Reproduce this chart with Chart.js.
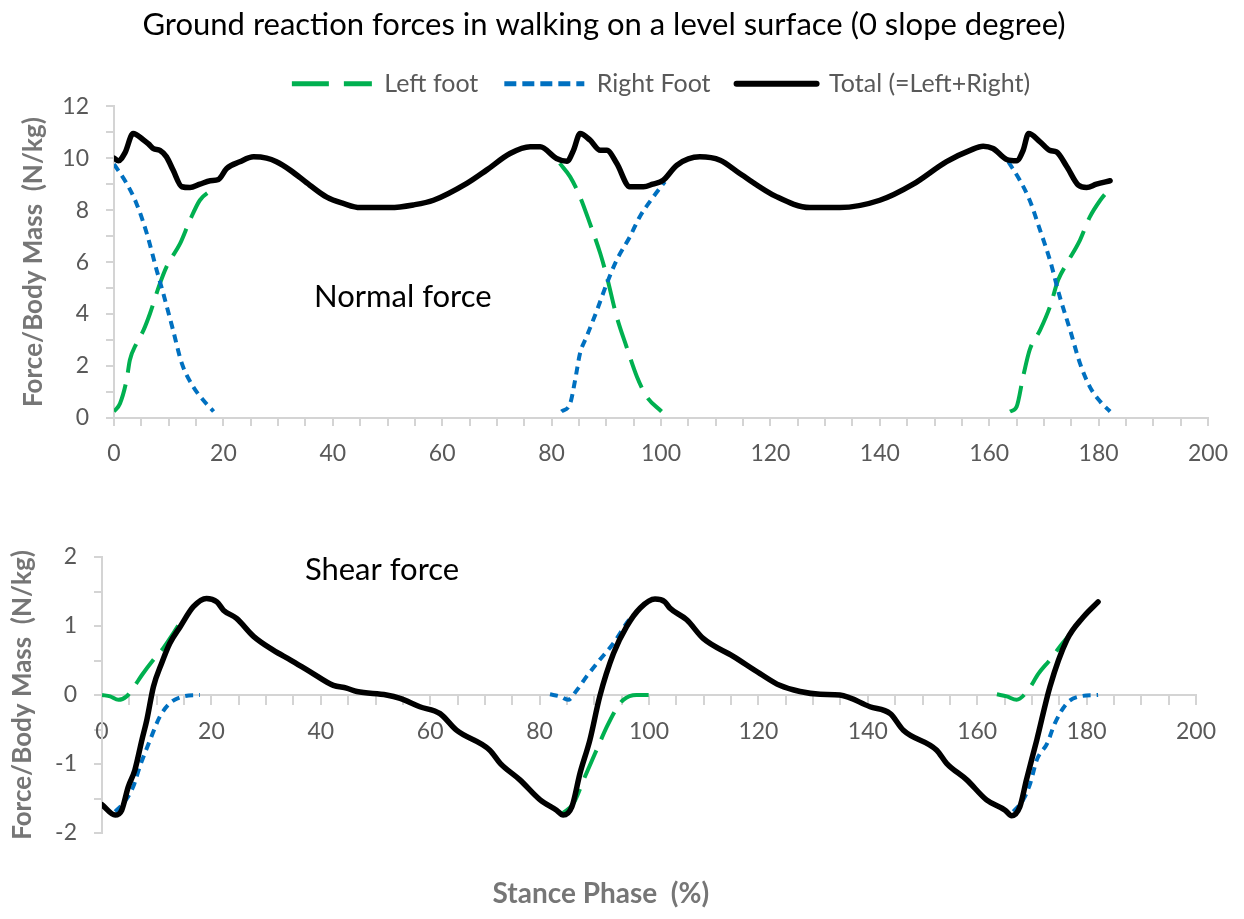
<!DOCTYPE html>
<html>
<head>
<meta charset="utf-8">
<title>Ground reaction forces</title>
<script src="https://cdn.jsdelivr.net/npm/chart.js@4/dist/chart.umd.min.js"></script>
<style>
  html, body { margin: 0; padding: 0; background: #fff; }
  .box { position: absolute; left: 0; width: 1244px; }
  #topBox { top: 0; height: 480px; }
  #bottomBox { top: 480px; height: 439px; }
</style>
</head>
<body>
<div class="box" id="topBox"><canvas id="normalChart"></canvas></div>
<div class="box" id="bottomBox"><canvas id="shearChart"></canvas></div>
<script>
// --- data: [stance phase %, force / body mass N/kg] ---
const seriesNames = ['Left foot', 'Right Foot', 'Total (=Left+Right)'];
const xTicks = [0, 20, 40, 60, 80, 100, 120, 140, 160, 180, 200];
const normalTicks = [0, 2, 4, 6, 8, 10, 12];
const shearTicks = [-2, -1, 0, 1, 2];

const normalTotal = [
  [0, 10.0], [0.8, 9.9], [2.0, 10.2], [3.5, 10.95], [5.4, 10.7], [6.3, 10.55], [7.2, 10.37],
  [8.4, 10.3], [9.6, 10.05], [10.8, 9.54], [12.4, 8.9], [13.9, 8.87], [15.7, 9.0], [17.6, 9.13],
  [19.1, 9.18], [20.6, 9.6], [23.0, 9.86], [25.5, 10.05], [27.9, 10.0], [29.7, 9.86], [32.2, 9.54],
  [35.8, 8.96], [38.9, 8.5], [41.9, 8.26], [45.0, 8.1], [50.5, 8.1], [54.7, 8.2], [58.4, 8.38],
  [64.5, 9.03], [68.1, 9.54], [72.4, 10.18], [76.1, 10.44], [77.9, 10.44], [80.9, 9.99],
  [82.8, 9.88], [84.0, 10.3], [85.2, 10.95], [87.0, 10.7], [88.9, 10.3], [90.1, 10.3], [91.9, 9.8],
  [94.3, 8.9], [96.8, 8.9], [98.5, 9.0], [100.4, 9.15], [102.9, 9.73], [107.1, 10.05], [110.8, 9.92],
  [114.4, 9.41], [121.1, 8.52], [127.2, 8.1], [132.7, 8.1], [140.0, 8.38], [146.1, 9.0],
  [152.2, 9.87], [156.5, 10.3], [158.9, 10.46], [160.7, 10.37], [163.2, 9.95], [165.0, 9.9],
  [166.2, 10.3], [167.2, 10.95], [169.3, 10.63], [171.1, 10.3], [172.3, 10.24], [174.2, 9.67],
  [176.3, 8.96], [177.8, 8.87], [179.6, 9.0], [182.1, 9.13]
];
const normalLeft = [
  [[0, 0.25], [1.1, 0.56], [2.3, 1.46], [2.9, 2.23], [4.1, 2.87], [5.4, 3.38], [6.6, 4.03],
   [8.4, 5.18], [9.6, 5.82], [12.1, 6.72], [13.9, 7.62], [15.7, 8.38], [17.8, 8.77]],
  [[81.5, 9.8], [83.4, 9.28], [85.2, 8.51], [87.0, 7.49], [88.9, 6.33], [90.1, 5.44], [91.9, 3.9],
   [93.7, 2.74], [95.6, 1.59], [97.4, 0.82], [100.1, 0.25]],
  [[163.8, 0.25], [165.0, 0.43], [166.2, 1.59], [167.4, 2.62], [169.3, 3.38], [171.1, 4.28],
   [172.6, 5.31], [174.2, 5.95], [176.6, 6.85], [178.4, 7.74], [180.3, 8.38], [181.8, 8.77]]
];
const normalRight = [
  [[0, 9.77], [2.3, 9.03], [4.1, 8.26], [6.0, 7.1], [7.8, 5.69], [9.0, 4.8], [10.8, 3.38],
   [12.4, 2.1], [14.5, 1.2], [16.3, 0.69], [18.2, 0.25]],
  [[81.8, 0.25], [83.4, 0.56], [84.3, 1.46], [85.2, 2.49], [86.4, 3.13], [88.3, 4.15], [90.1, 5.18],
   [91.9, 6.08], [94.3, 6.97], [96.1, 7.74], [98.6, 8.51], [100.7, 9.09]],
  [[163.5, 9.86], [165.6, 9.15], [167.4, 8.38], [169.3, 7.23], [171.1, 6.08], [172.9, 4.67],
   [174.8, 3.38], [176.6, 2.1], [178.4, 1.2], [180.3, 0.63], [182.1, 0.25]]
];

const shearTotal = [
  [0, -1.59], [2.4, -1.74], [3.6, -1.67], [4.8, -1.33], [6.0, -1.09], [7.3, -0.65], [8.2, -0.36],
  [9.4, 0.12], [10.9, 0.46], [12.4, 0.75], [14.3, 0.99], [16.7, 1.28], [19.1, 1.40], [21.0, 1.35],
  [22.2, 1.23], [24.6, 1.11], [27.7, 0.85], [31.3, 0.65], [34.4, 0.51], [38.0, 0.34], [42.3, 0.14],
  [44.7, 0.10], [46.6, 0.05], [52.0, 0.0], [54.5, -0.05], [58.1, -0.17], [61.8, -0.27], [64.8, -0.51],
  [70.9, -0.80], [72.8, -0.99], [76.4, -1.23], [80.1, -1.52], [83.1, -1.67], [84.3, -1.74],
  [85.9, -1.62], [87.4, -1.13], [89.2, -0.65], [91.0, -0.02], [93.5, 0.60], [95.9, 0.99],
  [98.4, 1.26], [101.1, 1.39], [102.9, 1.35], [103.8, 1.26], [106.9, 1.09], [109.9, 0.82],
  [115.4, 0.56], [120.3, 0.31], [123.9, 0.14], [127.6, 0.05], [131.3, 0.01], [134.9, 0.0],
  [140.4, -0.17], [144.1, -0.27], [146.5, -0.51], [152.6, -0.80], [154.4, -0.99], [158.1, -1.23],
  [161.7, -1.52], [165.1, -1.67], [166.3, -1.75], [167.8, -1.62], [169.0, -1.23], [170.9, -0.65],
  [173.3, 0.12], [176.4, 0.80], [179.4, 1.13], [182.1, 1.35]
];
const shearLeft = [
  [[0, 0], [1.5, -0.02], [3.0, -0.07], [4.5, -0.02], [5.7, 0.10], [7.3, 0.29], [9.4, 0.51],
   [11.2, 0.68], [13.0, 0.89], [14.6, 1.09]],
  [[84.3, -1.71], [86.2, -1.57], [88.3, -1.18], [90.4, -0.80], [92.3, -0.46], [94.1, -0.19],
   [95.3, -0.07], [97.7, 0], [100.2, 0]],
  [[163.6, 0.01], [165.4, -0.02], [167.2, -0.07], [169.3, 0.07], [171.2, 0.31], [173.3, 0.51],
   [175.1, 0.70], [177.0, 0.89], [178.8, 1.11]]
];
const shearRight = [
  [[2.4, -1.69], [3.9, -1.57], [5.7, -1.33], [6.9, -1.04], [8.8, -0.65], [10.6, -0.31],
   [12.4, -0.12], [14.9, -0.02], [17.9, 0]],
  [[81.9, 0.01], [83.7, -0.02], [85.2, -0.07], [86.8, 0.07], [88.6, 0.27], [91.0, 0.51],
   [93.5, 0.75], [95.9, 1.04], [97.1, 1.16]],
  [[166.6, -1.69], [168.4, -1.52], [169.7, -1.28], [170.9, -0.94], [172.8, -0.70], [174.2, -0.41],
   [176.4, -0.12], [178.8, -0.02], [182.1, 0]]
];

const chartTitle = 'Ground reaction forces in walking on a level surface (0 slope degree)';
const yTitle = 'Force/Body Mass  (N/kg)';
const xTitle = 'Stance Phase  (%)';

// --- styling ---
const FONT = 'Lato, "Open Sans", sans-serif';
const tickColor = '#595959';
const axisTitleColor = '#767676';
const axisColor = '#d4d4d4';
const green = '#00b050';
const blue = '#0070c0';

function line(points) {
  return points.map(p => ({ x: p[0], y: p[1] }));
}
function segments(parts) {
  const out = [];
  parts.forEach((seg, i) => {
    if (i > 0) out.push({ x: seg[0][0], y: null });
    seg.forEach(p => out.push({ x: p[0], y: p[1] }));
  });
  return out;
}

function datasets(left, right, total) {
  return [
    { label: seriesNames[0], data: segments(left), borderColor: green, borderWidth: 4,
      borderDash: [30, 12], order: 2 },
    { label: seriesNames[1], data: segments(right), borderColor: blue, borderWidth: 4,
      borderDash: [8, 6], order: 1 },
    { label: seriesNames[2], data: line(total), borderColor: '#000', borderWidth: 5.5,
      borderCapStyle: 'round', order: 0 }
  ];
}

const legendDash = [[37, 15], [12, 6], []];
const legendWidth = [5, 5, 6];

// plain text notes placed in data coordinates
const notesPlugin = {
  id: 'notes',
  afterDatasetsDraw(chart, args, opts) {
    const { ctx, scales } = chart;
    (opts.items || []).forEach(n => {
      ctx.save();
      ctx.font = n.font;
      ctx.fillStyle = n.color;
      ctx.textAlign = 'center';
      ctx.textBaseline = 'middle';
      ctx.fillText(n.text, scales.x.getPixelForValue(n.x), scales.y.getPixelForValue(n.y));
      ctx.restore();
    });
  }
};

function xScale(position, tickLen) {
  return {
    type: 'linear', position: position, min: 0, max: 200,
    ticks: {
      stepSize: 5, autoSkip: false, maxRotation: 0, padding: 14,
      color: tickColor, font: { family: FONT, size: 23 },
      callback: v => xTicks.includes(v) ? v : ''
    },
    grid: { drawOnChartArea: false, tickLength: tickLen, color: axisColor, lineWidth: 2 },
    border: { color: axisColor, width: 2 }
  };
}

function yScale(min, max, step, labels, width, titlePad) {
  return {
    min: min, max: max,
    ticks: {
      stepSize: step, autoSkip: false, padding: 17,
      color: tickColor, font: { family: FONT, size: 23 },
      callback: v => labels.includes(v) ? v : ''
    },
    grid: { drawOnChartArea: false, tickLength: 8, color: axisColor, lineWidth: 2 },
    border: { color: axisColor, width: 2 },
    title: {
      display: true, text: yTitle, color: axisTitleColor,
      font: { family: FONT, size: 26, weight: 'bold' },
      padding: { top: titlePad, bottom: 0 }
    },
    afterFit: s => { s.width = width; }
  };
}

Chart.defaults.font.family = FONT;
Chart.defaults.elements.point.radius = 0;
Chart.defaults.elements.line.cubicInterpolationMode = 'monotone';

const topX = xScale('bottom', 8);
topX.afterFit = s => { s.height = 62; };

new Chart(document.getElementById('normalChart'), {
  type: 'line',
  data: { datasets: datasets(normalLeft, normalRight, normalTotal) },
  plugins: [notesPlugin],
  options: {
    responsive: true,
    maintainAspectRatio: false,
    animation: false,
    spanGaps: false,
    layout: { padding: { top: 0, left: 0, right: 36, bottom: 0 } },
    scales: {
      x: topX,
      y: yScale(0, 12, 1, normalTicks, 114, 18)
    },
    plugins: {
      tooltip: { enabled: false },
      title: {
        display: true, text: chartTitle, color: '#000',
        font: { family: FONT, size: 31, weight: 'normal' },
        padding: { top: 6, bottom: 2 }
      },
      legend: {
        display: true, position: 'top', fullSize: false,
        labels: {
          usePointStyle: true, pointStyleWidth: 80, padding: 26,
          color: tickColor, font: { family: FONT, size: 25 },
          generateLabels: chart => chart.data.datasets.map((ds, i) => ({
            text: ds.label, fillStyle: ds.borderColor, strokeStyle: ds.borderColor,
            lineWidth: legendWidth[i], lineDash: legendDash[i], lineCap: i === 2 ? 'round' : 'butt',
            pointStyle: 'line', hidden: false, datasetIndex: i, fontColor: tickColor
          }))
        }
      },
      notes: {
        items: [{ text: 'Normal force', x: 52.8, y: 4.65, color: '#000',
                  font: '31px ' + FONT }]
      }
    }
  }
});

new Chart(document.getElementById('shearChart'), {
  type: 'line',
  data: { datasets: datasets(shearLeft, shearRight, shearTotal) },
  plugins: [notesPlugin],
  options: {
    responsive: true,
    maintainAspectRatio: false,
    animation: false,
    spanGaps: false,
    layout: { padding: { top: 77, left: 0, right: 48, bottom: 86 } },
    scales: {
      x: xScale({ y: 0 }, 9),
      y: yScale(-2, 2, 0.5, shearTicks, 102, 7)
    },
    plugins: {
      tooltip: { enabled: false },
      legend: { display: false },
      title: { display: false },
      notes: {
        items: [
          { text: 'Shear force', x: 51.2, y: 1.81, color: '#000', font: '31px ' + FONT },
          { text: xTitle, x: 91.2, y: -2.88, color: axisTitleColor, font: 'bold 28px ' + FONT }
        ]
      }
    }
  }
});
</script>
</body>
</html>
